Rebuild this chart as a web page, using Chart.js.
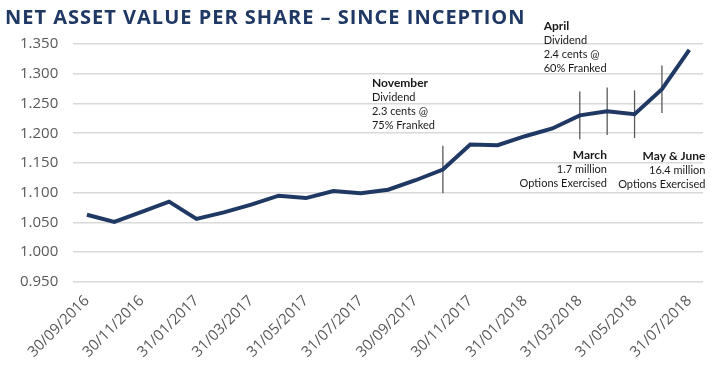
<!DOCTYPE html>
<html>
<head>
<meta charset="utf-8">
<script src="https://cdn.jsdelivr.net/npm/chart.js@4"></script>
<style>
  body { margin: 0; background: #fff; }
  #wrap { width: 721px; height: 369px; position: relative; }
</style>
</head>
<body>
<div id="wrap"><canvas id="navChart"></canvas></div>
<script>
// month-end dates
const dates = [
  '30/09/2016', '31/10/2016', '30/11/2016', '31/12/2016', '31/01/2017', '28/02/2017',
  '31/03/2017', '30/04/2017', '31/05/2017', '30/06/2017', '31/07/2017', '31/08/2017',
  '30/09/2017', '31/10/2017', '30/11/2017', '31/12/2017', '31/01/2018', '28/02/2018',
  '31/03/2018', '30/04/2018', '31/05/2018', '30/06/2018', '31/07/2018'
];
const navValues = [
  1.063, 1.051, 1.068, 1.085, 1.056, 1.067,
  1.080, 1.095, 1.091, 1.103, 1.099, 1.105,
  1.121, 1.139, 1.181, 1.180, 1.195, 1.208,
  1.230, 1.237, 1.232, 1.274, 1.340
];
const yMin = 0.95;
const yMax = 1.35;
const yStep = 0.05;

// event marker ticks (index into dates) and half height in NAV units
const markerIdx = [13, 18, 19, 20, 21];
const markerHalf = 0.04;

// annotation text blocks, anchored in data space (index, value of first baseline)
const noteTitles = ['November', 'April', 'March', 'May & June'];
const noteLines = [
  ['Dividend', '2.3 cents @', '75% Franked'],
  ['Dividend', '2.4 cents @', '60% Franked'],
  ['1.7 million', 'Options Exercised'],
  ['16.4 million', 'Options Exercised']
];
const noteAt = [[10.41, 1.278], [16.68, 1.374], [18.99, 1.157], [22.59, 1.155]];
const noteAlign = ['left', 'left', 'right', 'right'];

const titleText = 'NET ASSET VALUE PER SHARE \u2013 SINCE INCEPTION';

const extras = {
  id: 'extras',
  beforeDatasetsDraw(chart) {
    const ctx = chart.ctx;
    const x = chart.scales.x, y = chart.scales.y;
    ctx.save();
    ctx.strokeStyle = '#595959';
    ctx.lineWidth = 1.3;
    markerIdx.forEach(i => {
      const px = x.getPixelForValue(i);
      ctx.beginPath();
      ctx.moveTo(px, y.getPixelForValue(navValues[i] + markerHalf));
      ctx.lineTo(px, y.getPixelForValue(navValues[i] - markerHalf));
      ctx.stroke();
    });
    ctx.restore();
  },
  afterDraw(chart) {
    const ctx = chart.ctx;
    const x = chart.scales.x, y = chart.scales.y;
    ctx.save();
    // title
    ctx.fillStyle = '#1f3864';
    ctx.font = 'bold 20px "Open Sans"';
    ctx.letterSpacing = '1px';
    ctx.textAlign = 'left';
    ctx.textBaseline = 'alphabetic';
    ctx.fillText(titleText, 5, 24);
    ctx.letterSpacing = '0px';
    // notes
    ctx.fillStyle = '#1a1a1a';
    noteTitles.forEach((t, n) => {
      const px = x.getPixelForValue(noteAt[n][0]);
      let py = y.getPixelForValue(noteAt[n][1]);
      ctx.textAlign = noteAlign[n];
      ctx.font = 'bold 12px Lato';
      ctx.fillText(t, px, py);
      ctx.font = '11px Lato';
      noteLines[n].forEach(line => {
        py += 14;
        ctx.fillText(line, px, py);
      });
    });
    ctx.restore();
  }
};

new Chart(document.getElementById('navChart'), {
  type: 'line',
  data: {
    labels: dates,
    datasets: [{
      data: navValues,
      borderColor: '#1f3864',
      borderWidth: 4,
      pointRadius: 0,
      tension: 0,
      fill: false
    }]
  },
  options: {
    responsive: true,
    maintainAspectRatio: false,
    animation: false,
    layout: { padding: { top: 44, right: 18, bottom: -2, left: 5 } },
    plugins: { legend: { display: false }, tooltip: { enabled: false } },
    scales: {
      x: {
        offset: true,
        grid: { display: false, drawTicks: false },
        border: { display: false },
        afterFit(scale) { scale.paddingLeft = 0; scale.paddingRight = 0; },
        ticks: {
          autoSkip: false,
          maxRotation: 45,
          minRotation: 45,
          padding: 10,
          color: '#595959',
          font: { family: '"Open Sans"', size: 15 },
          callback: function (v, i) { return i % 2 === 0 ? this.getLabelForValue(v) : ''; }
        }
      },
      y: {
        min: yMin,
        max: yMax,
        grid: { color: '#d9d9d9', lineWidth: 1.5, drawTicks: false },
        border: { display: false },
        ticks: {
          stepSize: yStep,
          padding: 15,
          color: '#595959',
          font: { family: '"Open Sans"', size: 15 },
          callback: v => v.toFixed(3)
        }
      }
    }
  },
  plugins: [extras]
});
</script>
</body>
</html>
